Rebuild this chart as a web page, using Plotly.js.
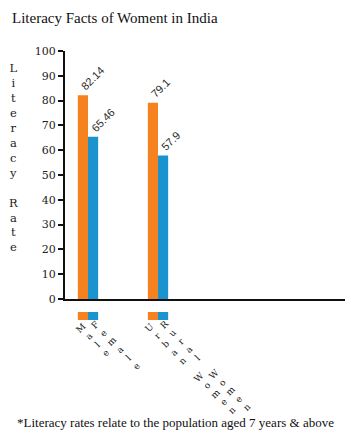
<!DOCTYPE html>
<html>
<head>
<meta charset="utf-8">
<script src="https://cdn.plot.ly/plotly-3.0.1.min.js"></script>
<style>html,body{margin:0;padding:0;background:#fff}#chart{width:345px;height:440px}</style>
</head>
<body>
<div id="chart"></div>
<script>
// ---- data ----
const groups = ["Gender", "Area"];
const orangeLabels = ["Male", "Urban Women"];
const blueLabels = ["Female", "Rural Women"];
const orangeValues = [82.14, 79.1];
const blueValues = [65.46, 57.9];
const yTickVals = [0, 10, 20, 30, 40, 50, 60, 70, 80, 90, 100];
const swatch = [1, 1];

const chartTitle = "Literacy Facts of Woment in India";
const yTitle = "Literacy Rate";
const footnote = "*Literacy rates relate to the population aged 7 years & above";

const ORANGE = "#f5821f";
const BLUE = "#1b93cf";

// ---- geometry ----
const W = 345, H = 440;
const mL = 65, mR = 0, mT = 51, mB = 120;
const plotW = W - mL - mR, plotH = H - mT - mB;
const pxPerCat = 70;
const firstCenterPx = 88;
const xMin = -(firstCenterPx - mL) / pxPerCat;
const xMax = xMin + plotW / pxPerCat;
const bargap = 0.71;
const barPx = (1 - bargap) * pxPerCat / 2;
const axisGapPx = 21;
const swatchPx = 8;

const traces = [
  {type: "bar", x: groups, y: orangeValues, marker: {color: ORANGE}, xaxis: "x", yaxis: "y", hoverinfo: "none"},
  {type: "bar", x: groups, y: blueValues, marker: {color: BLUE}, xaxis: "x", yaxis: "y", hoverinfo: "none"},
  {type: "bar", x: groups, y: swatch, marker: {color: ORANGE}, xaxis: "x", yaxis: "y2", hoverinfo: "none"},
  {type: "bar", x: groups, y: swatch, marker: {color: BLUE}, xaxis: "x", yaxis: "y2", hoverinfo: "none"}
];

const annotations = [];
const valueFont = {family: "Liberation Sans, Arial, sans-serif", size: 11, color: "#2a2a2a"};
const labelFont = {family: "DejaVu Serif, serif", size: 9, color: "#222"};
const lh = 1.25 * labelFont.size;

function addBar(gi, side, value, label) {
  const off = side * barPx / 2;
  annotations.push({
    x: groups[gi], xref: "x", y: value, yref: "y",
    text: String(value), textangle: -45, showarrow: false,
    xanchor: "left", yanchor: "bottom", xshift: off - 7, yshift: 0,
    font: valueFont
  });
  const chars = label.split("").map(c => c === " " ? "\u00a0" : c);
  const n = chars.length;
  const d = (n - 1) * lh / 2 * Math.SQRT1_2;
  const lx = side < 0 ? -1.5 : 3.5;
  const ly = side < 0 ? 30 : 27;
  annotations.push({
    x: groups[gi], xref: "x", y: 0, yref: "y",
    text: chars.join("<br>"), textangle: -45, showarrow: false,
    xanchor: "center", yanchor: "middle", align: "center",
    xshift: off + lx + d, yshift: -(ly + d),
    font: labelFont
  });
}
for (let i = 0; i < groups.length; i++) {
  addBar(i, -1, orangeValues[i], orangeLabels[i]);
  addBar(i, 1, blueValues[i], blueLabels[i]);
}

// y-axis title as stacked letters
annotations.push({
  x: 0, xref: "paper", y: (plotH - (157 - mT)) / plotH, yref: "paper",
  xshift: -52, xanchor: "center", yanchor: "middle", showarrow: false,
  text: yTitle.split("").map(c => c === " " ? "\u00a0" : c).join("<br>"),
  font: {family: "DejaVu Serif, serif", size: 11.5, color: "#222"}
});
// footnote
annotations.push({
  x: (15 - mL) / plotW, xref: "paper", y: (plotH - (422 - mT)) / plotH, yref: "paper",
  xanchor: "left", yanchor: "middle", showarrow: false, text: footnote,
  font: {family: "Liberation Serif, serif", size: 13, color: "#111"}
});

const layout = {
  width: W, height: H,
  margin: {l: mL, r: mR, t: mT, b: mB, pad: 0},
  paper_bgcolor: "#fff", plot_bgcolor: "#fff",
  showlegend: false,
  barmode: "group", bargap: bargap, bargroupgap: 0,
  title: {
    text: chartTitle, xref: "container", yref: "container",
    x: 12 / W, xanchor: "left", y: 1 - 18 / H, yanchor: "middle",
    font: {family: "Liberation Serif, serif", size: 15, color: "#111"}
  },
  xaxis: {
    type: "category", range: [xMin, xMax], anchor: "y",
    showticklabels: false, ticks: "", showgrid: false, zeroline: false,
    showline: true, linecolor: "#111", linewidth: 2, fixedrange: true
  },
  yaxis: {
    domain: [axisGapPx / plotH, 1], range: [0, 100], tickvals: yTickVals,
    ticks: "outside", ticklen: 5, tickwidth: 2, tickcolor: "#111",
    showline: true, linecolor: "#111", linewidth: 2,
    showgrid: false, zeroline: false,
    tickfont: {family: "DejaVu Serif, serif", size: 11, color: "#222"},
    fixedrange: true
  },
  yaxis2: {
    domain: [0, swatchPx / plotH], range: [0, 1], anchor: "x",
    showticklabels: false, ticks: "", showgrid: false, zeroline: false,
    showline: false, fixedrange: true
  },
  annotations: annotations
};

Plotly.newPlot("chart", traces, layout, {displayModeBar: false, staticPlot: true});
</script>
</body>
</html>
